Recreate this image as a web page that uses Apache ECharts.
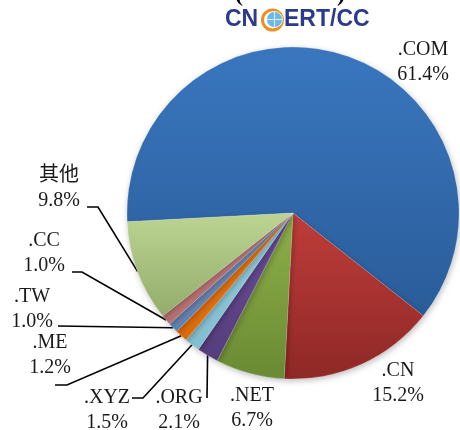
<!DOCTYPE html>
<html>
<head>
<meta charset="utf-8">
<script src="https://cdn.jsdelivr.net/npm/echarts@6/dist/echarts.min.js"></script>
<style>
  html, body { margin: 0; padding: 0; background: #fff; }
  #chart { width: 460px; height: 430px; }
</style>
</head>
<body>
<div id="chart"></div>
<script>
// 域名分布
const domains = ['.COM', '.CN', '.NET', '.ORG', '.XYZ', '.ME', '.TW', '.CC', '其他'];
const shares = [61.4, 15.2, 6.7, 2.1, 1.5, 1.2, 1.0, 1.0, 9.8];
const topColors = ['#3a77bf', '#bf3d3a', '#8fb04a', '#6b4e99', '#95d0e0', '#f07a12', '#7393c2', '#c98584', '#bdd592'];
const bottomColors = ['#2a5c99', '#8e2826', '#6a8a33', '#553d7c', '#82bed0', '#dc6a0a', '#6282b2', '#b56f6e', '#93ac6c'];

// label text centres, and the bend/end of the leader lines
const labelPos = [[423, 62], [398, 383], [252, 408], [179, 410], [107, 410], [50, 355], [32, 309], [44, 253], [59, 188]];
const guidePts = [null, null, null, [[207, 398]], [[143, 398], [132, 398]], [[67, 385], [55, 385]], [[58, 326]], [[82, 272], [72, 272]], [[98, 207], [87, 207]]];

const chart = echarts.init(document.getElementById('chart'));

const pieData = domains.map((name, i) => ({
  name: name,
  value: shares[i],
  itemStyle: {
    color: {
      type: 'linear', x: 0, y: 0, x2: 0, y2: 1,
      colorStops: [{offset: 0, color: topColors[i]}, {offset: 1, color: bottomColors[i]}]
    }
  },
  labelLine: {show: guidePts[i] != null}
}));

const option = {
  animation: false,
  backgroundColor: '#fff',
  graphic: [
    // cut-off title at the very top
    {type: 'text', left: 235, top: -17, style: {text: '(', font: 'bold 24px "Liberation Serif", serif', fill: '#000'}},
    {type: 'text', left: 337, top: -17, style: {text: ')', font: 'bold 24px "Liberation Serif", serif', fill: '#000'}},
    // logo
    {type: 'text', left: 225, top: 8, style: {text: 'CN', font: 'bold 23px "Liberation Sans", Arial, sans-serif', fill: '#2b3a8c'}},
    {type: 'text', left: 284, top: 8, style: {text: 'ERT/CC', font: 'bold 23px "Liberation Sans", Arial, sans-serif', fill: '#2b3a8c'}},
    {type: 'circle', shape: {cx: 272.5, cy: 20, r: 10}, style: {fill: 'none', stroke: '#f0901c', lineWidth: 3}},
    {type: 'circle', shape: {cx: 274.5, cy: 19.5, r: 8}, style: {fill: '#6cb8e8', stroke: '#ffffff', lineWidth: 0.8}},
    {type: 'line', shape: {x1: 274.5, y1: 11.5, x2: 274.5, y2: 27.5}, style: {stroke: '#ffffff', lineWidth: 0.8}},
    {type: 'line', shape: {x1: 266.5, y1: 19.5, x2: 282.5, y2: 19.5}, style: {stroke: '#ffffff', lineWidth: 0.8}}
  ],
  series: [{
    type: 'pie',
    center: [293, 213],
    radius: 166,
    startAngle: 183,
    clockwise: true,
    data: pieData,
    itemStyle: {
      borderColor: 'rgba(255,255,255,0.35)',
      borderWidth: 0.5,
      shadowBlur: 6,
      shadowColor: 'rgba(0,0,0,0.25)',
      shadowOffsetX: 1,
      shadowOffsetY: 2
    },
    label: {
      show: true,
      position: 'outside',
      overflow: 'none',
      formatter: p => p.name + '\n' + p.value.toFixed(1) + '%',
      fontFamily: '"Liberation Serif", "Times New Roman", "Noto Sans CJK SC", serif',
      fontSize: 20,
      lineHeight: 25,
      color: '#1a1a1a',
      align: 'center'
    },
    labelLine: {
      lineStyle: {color: '#000', width: 1.6}
    },
    labelLayout: function (params) {
      const i = params.dataIndex;
      const res = {x: labelPos[i][0], y: labelPos[i][1], align: 'center', verticalAlign: 'middle'};
      if (guidePts[i] && params.labelLinePoints) {
        res.labelLinePoints = [params.labelLinePoints[0]].concat(guidePts[i]);
      }
      return res;
    }
  }]
};

chart.setOption(option);
</script>
</body>
</html>
